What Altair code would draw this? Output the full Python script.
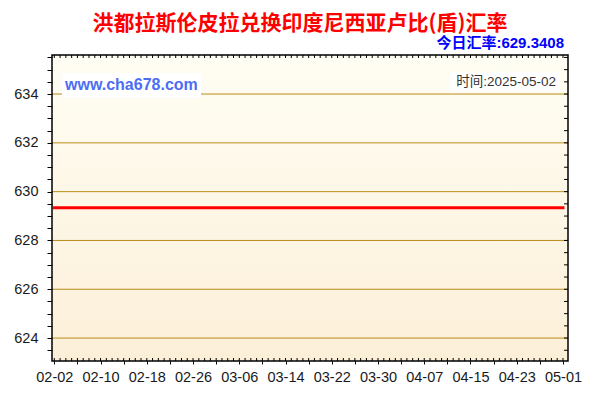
import json
import altair as alt
import pandas as pd

# ---- data ----
title_text = "洪都拉斯伦皮拉兑换印度尼西亚卢比(盾)汇率"
today_text = "今日汇率:629.3408"
time_text = "时间:2025-05-02"
site_text = "www.cha678.com"
x_labels = ["02-02", "02-10", "02-18", "02-26", "03-06", "03-14",
            "03-22", "03-30", "04-07", "04-15", "04-23", "05-01"]
line_days = [0, 88]               # day index from 02-02
line_rates = [629.3408, 629.3408]
grid_values = [624, 626, 628, 630, 632, 634]
y_ticks = [623.5 + 0.5 * i for i in range(25)]
x_major = [4 * i for i in range(23)]
x_minor = list(range(89))

W, H = 516, 306
xs = alt.Scale(domain=[-0.4, 88.87], nice=False, zero=False)
ys = alt.Scale(domain=[623.06, 635.6], nice=False, zero=False)

one = pd.DataFrame({"a": [0]})
line_df = pd.DataFrame({"day": line_days, "rate": line_rates})
grid_df = pd.DataFrame({"day": [0] * len(grid_values), "rate": grid_values})
yt_df = pd.DataFrame({"day": [0] * len(y_ticks), "rate": y_ticks})
xt_df = pd.DataFrame({"day": x_minor, "rate": [629.0] * len(x_minor)})

FONT = "Liberation Sans, Noto Sans CJK SC"
label_arr = json.dumps(x_labels)

x_axis = alt.Axis(
    values=x_major, title=None, grid=False, domain=False,
    tickSize=3, tickColor="black", tickWidth=1,
    labelExpr=f"datum.value % 8 == 0 ? {label_arr}[datum.value / 8] : ''",
    labelFont="Liberation Sans", labelFontSize=14.5, labelColor="#1a1a1a",
    labelPadding=6, labelFlush=False, labelOverlap=False, zindex=1)
y_axis = alt.Axis(
    values=y_ticks, title=None, grid=False, domain=False,
    tickSize=5, tickColor="black", tickWidth=1,
    labelExpr="datum.value % 2 == 0 ? format(datum.value, 'd') : ''",
    labelFont="Liberation Sans", labelFontSize=14.5, labelColor="#1a1a1a",
    labelPadding=9, labelOverlap=False, zindex=1)

X = alt.X("day:Q", scale=xs, axis=x_axis)
Y = alt.Y("rate:Q", scale=ys, axis=y_axis)

bg = alt.Chart(one).mark_rect(
    fill=alt.LinearGradient(
        gradient="linear", x1=0, x2=0, y1=0, y2=1,
        stops=[alt.GradientStop(color="#fffef4", offset=0),
               alt.GradientStop(color="#fcefd8", offset=1)])
).encode(x=alt.value(0), x2=alt.value(W), y=alt.value(0), y2=alt.value(H))

grid = alt.Chart(grid_df).mark_rule(color="#bb8c18", strokeWidth=1).encode(
    y=Y, x=alt.value(0), x2=alt.value(W))

site_box = alt.Chart(one).mark_rect(fill="white").encode(
    x=alt.value(10), x2=alt.value(149), y=alt.value(18), y2=alt.value(43))
site = alt.Chart(one).mark_text(
    text=site_text, font=FONT, fontSize=16, fontWeight="bold", color="#4d6ef2",
    align="left", baseline="middle").encode(x=alt.value(13), y=alt.value(30))

time_box = alt.Chart(one).mark_rect(fill="white").encode(
    x=alt.value(398), x2=alt.value(508), y=alt.value(17), y2=alt.value(37))
time_t = alt.Chart(one).mark_text(
    text=time_text, font=FONT, fontSize=13.5, color="#333333",
    align="right", baseline="middle").encode(x=alt.value(504), y=alt.value(27))

line = alt.Chart(line_df).mark_line(color="#ff0000", strokeWidth=3, strokeCap="square").encode(
    x=X, y=Y)

top_ticks = alt.Chart(xt_df).mark_rule(color="black", strokeWidth=1).encode(
    x=X, y=alt.value(0), y2=alt.value(3))
bot_ticks = alt.Chart(xt_df).mark_rule(color="black", strokeWidth=1).encode(
    x=X, y=alt.value(H - 3), y2=alt.value(H))
right_ticks = alt.Chart(yt_df).mark_rule(color="black", strokeWidth=1).encode(
    y=Y, x=alt.value(W - 4), x2=alt.value(W))

frame = alt.Chart(one).mark_rect(fillOpacity=0, stroke="black", strokeWidth=1.5).encode(
    x=alt.value(0), x2=alt.value(W), y=alt.value(0), y2=alt.value(H))

title = alt.Chart(one).mark_text(
    text=title_text, font="Noto Sans CJK SC", fontSize=21, fontWeight="bold",
    color="#ff0000", align="center", baseline="middle").encode(
    x=alt.value(248), y=alt.value(-31))
today = alt.Chart(one).mark_text(
    text=today_text, font=FONT, fontSize=15, fontWeight="bold",
    color="#0000ff", align="right", baseline="middle").encode(
    x=alt.value(512), y=alt.value(-12))

chart = alt.layer(
    bg, grid, site_box, site, time_box, time_t, line,
    top_ticks, bot_ticks, right_ticks, frame, title, today
).properties(
    width=W, height=H, autosize="none",
    padding={"left": 44, "top": 47, "right": 24, "bottom": 31},
    background="white",
).configure_view(stroke=None)

chart.save("out.html", embed_options={"renderer": "svg", "actions": False})
